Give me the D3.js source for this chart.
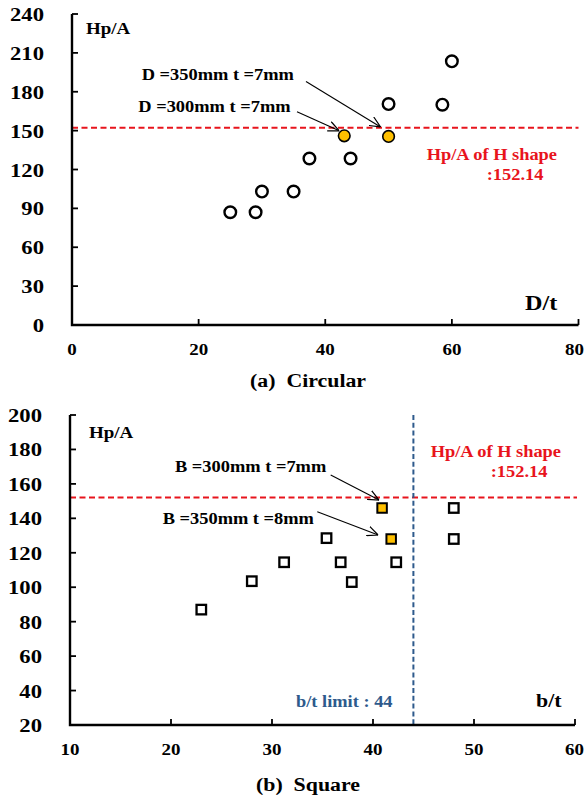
<!DOCTYPE html>
<html><head><meta charset="utf-8">
<script src="https://cdn.jsdelivr.net/npm/d3@7"></script>
<style>
html,body{margin:0;padding:0;background:#fff;}
svg text{font-family:"Liberation Serif","Times New Roman",serif;font-weight:bold;white-space:pre;}
</style></head>
<body><svg id="c" width="585" height="798"></svg>
<script>
// ---- Data ----
const circXTicks = [0, 20, 40, 60, 80];
const circYTicks = [0, 30, 60, 90, 120, 150, 180, 210, 240];
const circDt  = [25, 29, 30, 35, 37.5, 44, 50, 58.5, 60];
const circHpA = [87, 87, 103, 103, 128.5, 128.5, 170.5, 170, 203.5];
const circHiDt  = [43, 50];
const circHiHpA = [146, 145.5];

const sqXTicks = [10, 20, 30, 40, 50, 60];
const sqYTicks = [20, 40, 60, 80, 100, 120, 140, 160, 180, 200];
const sqBt  = [23, 28, 31.2, 35.4, 36.8, 37.9, 42.3, 48, 48];
const sqHpA = [87, 103.5, 114.5, 128.5, 114.5, 103, 114.5, 146, 128];
const sqHiBt  = [40.9, 41.8];
const sqHiHpA = [146, 128];

const hShapeHpA = 152.14;
const btLimit = 44;

// ---- Drawing ----
const svg = d3.select("#c");
const SX = 1.15;
const RED = "#e8141c";
const BLUE = "#2e5a8c";
const GOLD = "#ffc000";

svg.append("defs").append("marker")
  .attr("id","arr").attr("viewBox","0 0 10 10").attr("refX",10).attr("refY",5)
  .attr("markerWidth",11).attr("markerHeight",11).attr("markerUnits","userSpaceOnUse")
  .attr("orient","auto")
  .append("path").attr("d","M0,0.5 L10,5 L0,9.5").attr("fill","none").attr("stroke","#000").attr("stroke-width",1.1);

function txt(x, y, s, size, opts = {}) {
  const t = svg.append("text")
    .attr("transform", `translate(${x},${y}) scale(${SX},1)`)
    .attr("font-size", size)
    .attr("fill", opts.fill || "#000")
    .attr("text-anchor", opts.anchor || "start")
    .text(s);
  if (opts.dy) t.attr("dy", opts.dy);
  return t;
}

function axes(x, y, xt, yt) {
  const [x0, x1] = x.range();
  const [y0, y1] = y.range();
  const g = svg.append("g");
  // ticks inward
  xt.forEach(v => g.append("line").attr("x1", x(v)).attr("x2", x(v)).attr("y1", y0).attr("y2", y0 - 6)
    .attr("stroke", "#000").attr("stroke-width", 1.8));
  yt.forEach(v => g.append("line").attr("x1", x0).attr("x2", x0 + 6).attr("y1", y(v)).attr("y2", y(v))
    .attr("stroke", "#000").attr("stroke-width", 1.8));
  g.append("path").attr("d", `M${x0},${y1}V${y0}H${x1}`).attr("fill", "none")
    .attr("stroke", "#000").attr("stroke-width", 2.4);
  xt.forEach((v, i) => {
    const last = i === xt.length - 1 && x(v) > 570;
    txt(last ? 584 : x(v), y0 + 30, String(v), 16.5, {anchor: last ? "end" : "middle"});
  });
  yt.forEach(v => txt(x0 - 28, y(v) + 7, String(v), 19.7, {anchor: "end"}));
}

// ---- (a) Circular ----
const xa = d3.scaleLinear().domain([0, 80]).range([72, 578.5]);
const ya = d3.scaleLinear().domain([0, 240]).range([325, 14]);

svg.append("line").attr("x1", xa(0)).attr("x2", xa(80)).attr("y1", ya(hShapeHpA)).attr("y2", ya(hShapeHpA))
  .attr("stroke", RED).attr("stroke-width", 2).attr("stroke-dasharray", "6,3.5");

axes(xa, ya, circXTicks, circYTicks);

svg.append("g").selectAll("circle").data(d3.zip(circDt, circHpA)).join("circle")
  .attr("cx", d => xa(d[0])).attr("cy", d => ya(d[1])).attr("r", 5.8)
  .attr("fill", "#fff").attr("stroke", "#000").attr("stroke-width", 2.4);
svg.append("g").selectAll("circle").data(d3.zip(circHiDt, circHiHpA)).join("circle")
  .attr("cx", d => xa(d[0])).attr("cy", d => ya(d[1])).attr("r", 5.8)
  .attr("fill", GOLD).attr("stroke", "#000").attr("stroke-width", 1.6);

txt(86, 34, "Hp/A", 16.5);
txt(141.7, 79.5, "D =350mm t =7mm", 16);
txt(138.3, 111.7, "D =300mm t =7mm", 16);
txt(426.7, 160, "Hp/A of H shape", 16, {fill: RED});
txt(486.7, 180, ":152.14", 16, {fill: RED});
txt(525, 310, "D/t", 21);
txt(250, 387, "(a)  Circular", 19);

function arrow(x1, y1, x2, y2) {
  svg.append("line").attr("x1", x1).attr("y1", y1).attr("x2", x2).attr("y2", y2)
    .attr("stroke", "#000").attr("stroke-width", 1.1).attr("marker-end", "url(#arr)");
}
arrow(306, 81.5, xa(circHiDt[1]) - 8, ya(circHiHpA[1]) - 9.5);
arrow(297, 111.7, xa(circHiDt[0]) - 5, ya(circHiHpA[0]) - 5);

// ---- (b) Square ----
const xb = d3.scaleLinear().domain([10, 60]).range([70, 575]);
const yb = d3.scaleLinear().domain([20, 200]).range([725, 415]);

svg.append("line").attr("x1", xb(10)).attr("x2", 577).attr("y1", yb(hShapeHpA)).attr("y2", yb(hShapeHpA))
  .attr("stroke", RED).attr("stroke-width", 2).attr("stroke-dasharray", "6,3.5");
svg.append("line").attr("x1", xb(btLimit)).attr("x2", xb(btLimit)).attr("y1", yb(200)).attr("y2", yb(20))
  .attr("stroke", BLUE).attr("stroke-width", 2).attr("stroke-dasharray", "5,2.8");

axes(xb, yb, sqXTicks, sqYTicks);

const S = 9.5;
svg.append("g").selectAll("rect").data(d3.zip(sqBt, sqHpA)).join("rect")
  .attr("x", d => xb(d[0]) - S / 2).attr("y", d => yb(d[1]) - S / 2).attr("width", S).attr("height", S)
  .attr("fill", "#fff").attr("stroke", "#000").attr("stroke-width", 2.3);
svg.append("g").selectAll("rect").data(d3.zip(sqHiBt, sqHiHpA)).join("rect")
  .attr("x", d => xb(d[0]) - S / 2).attr("y", d => yb(d[1]) - S / 2).attr("width", S).attr("height", S)
  .attr("fill", GOLD).attr("stroke", "#000").attr("stroke-width", 2);

txt(89, 437.7, "Hp/A", 16.5);
txt(175, 471.7, "B =300mm t =7mm", 16);
txt(162.7, 524, "B =350mm t =8mm", 16);
txt(430.7, 456.7, "Hp/A of H shape", 16, {fill: RED});
txt(490.7, 476.7, ":152.14", 16, {fill: RED});
txt(296, 706.7, "b/t limit : 44", 16, {fill: BLUE});
txt(536, 706.7, "b/t", 19);
txt(256, 791, "(b)  Square", 19);

arrow(330.7, 475, xb(sqHiBt[0]) - 3, yb(sqHiHpA[0]) - 8);
arrow(317.3, 511.7, xb(sqHiBt[1]) - 13, yb(sqHiHpA[1]) - 4);
</script></body></html>
